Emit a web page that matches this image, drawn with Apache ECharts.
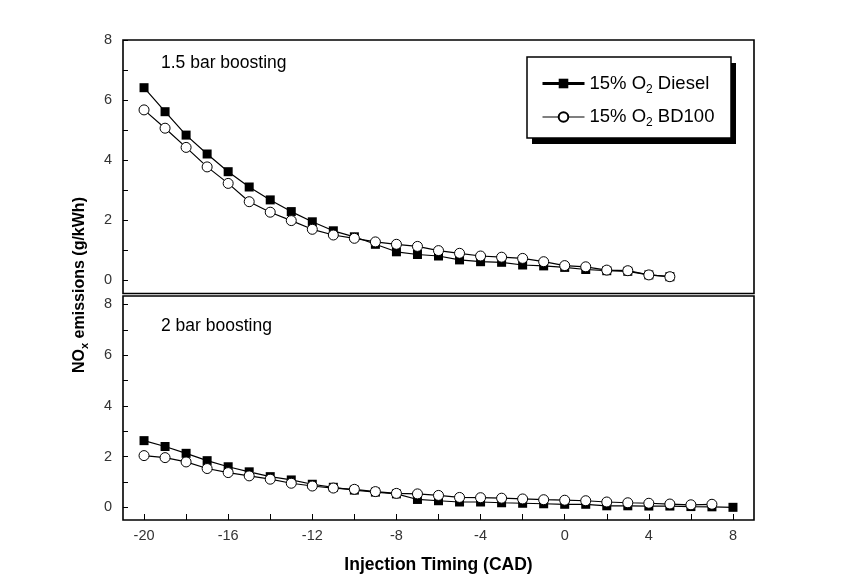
<!DOCTYPE html>
<html>
<head>
<meta charset="utf-8">
<script src="https://cdn.jsdelivr.net/npm/echarts@6/dist/echarts.min.js"></script>
<style>html,body{margin:0;padding:0;background:#fff;}#c{width:866px;height:579px;}</style>
</head>
<body>
<div id="c"></div>
<script>
// ---- data ----
var timingTop = [-20,-19,-18,-17,-16,-15,-14,-13,-12,-11,-10,-9,-8,-7,-6,-5,-4,-3,-2,-1,0,1,2,3,4,5];
var dieselTop = [6.41,5.61,4.83,4.20,3.61,3.10,2.67,2.28,1.94,1.64,1.44,1.19,0.94,0.85,0.80,0.67,0.61,0.59,0.50,0.47,0.42,0.35,0.31,0.29,0.17,0.11];
var bd100Top  = [5.67,5.06,4.42,3.77,3.22,2.61,2.26,1.98,1.69,1.50,1.39,1.27,1.19,1.12,0.98,0.89,0.80,0.76,0.72,0.61,0.48,0.44,0.33,0.31,0.17,0.11];

var timingBotDiesel = [-20,-19,-18,-17,-16,-15,-14,-13,-12,-11,-10,-9,-8,-7,-6,-5,-4,-3,-2,-1,0,1,2,3,4,5,6,7,8];
var dieselBot = [2.63,2.40,2.13,1.84,1.60,1.40,1.21,1.08,0.91,0.79,0.68,0.60,0.53,0.31,0.26,0.21,0.21,0.18,0.16,0.14,0.12,0.12,0.06,0.06,0.05,0.05,0.03,0.02,0.00];
var timingBotBD = [-20,-19,-18,-17,-16,-15,-14,-13,-12,-11,-10,-9,-8,-7,-6,-5,-4,-3,-2,-1,0,1,2,3,4,5,6,7];
var bd100Bot  = [2.04,1.96,1.79,1.53,1.37,1.24,1.11,0.95,0.84,0.76,0.71,0.62,0.55,0.53,0.47,0.39,0.38,0.36,0.33,0.30,0.28,0.26,0.21,0.18,0.16,0.13,0.10,0.12];

var xTicks = [-20,-18,-16,-14,-12,-10,-8,-6,-4,-2,0,2,4,6,8];
var xLabels = [-20,-16,-12,-8,-4,0,4,8];
var yTicks = [0,1,2,3,4,5,6,7,8];
var yLabels = [0,2,4,6,8];

var seriesNames = ['15% O2 Diesel', '15% O2 BD100'];
var panelTitles = ['1.5 bar boosting', '2 bar boosting'];

function zip(xs, ys) { return xs.map(function (x, i) { return [x, ys[i]]; }); }

var FONT = '"Liberation Sans", Arial, sans-serif';

var chart = echarts.init(document.getElementById('c'), null, {renderer: 'canvas'});

function yAxisFor(gi, min, max) {
  return {
    type: 'value', gridIndex: gi, min: min, max: max, position: 'left',
    axisLine: {show: false, onZero: false},
    splitLine: {show: false},
    axisTick: {show: true, inside: true, length: 5, customValues: yTicks, lineStyle: {color: '#000', width: 1}},
    axisLabel: {show: true, customValues: yLabels, margin: 11, fontFamily: FONT, fontSize: 14.5, color: '#333'}
  };
}

var diesel = {type: 'line', symbol: 'rect', symbolSize: 9, showAllSymbol: true,
  itemStyle: {color: '#000', borderColor: '#000', borderWidth: 0},
  lineStyle: {color: '#000', width: 1.2}, z: 3, animation: false};
var bd = {type: 'line', symbol: 'circle', symbolSize: 10, showAllSymbol: true,
  itemStyle: {color: '#fff', borderColor: '#000', borderWidth: 1},
  lineStyle: {color: '#000', width: 1.2}, z: 4, animation: false};

var option = {
  animation: false,
  backgroundColor: '#fff',
  grid: [
    {left: 123, top: 40, width: 631, height: 253.5, show: true, borderColor: '#000', borderWidth: 1.6, backgroundColor: 'transparent'},
    {left: 123, top: 296, width: 631, height: 224, show: true, borderColor: '#000', borderWidth: 1.6, backgroundColor: 'transparent'}
  ],
  xAxis: [
    {type: 'value', gridIndex: 0, min: -21, max: 9, position: 'bottom', axisLine: {show: false, onZero: false}, axisTick: {show: false}, axisLabel: {show: false}, splitLine: {show: false}},
    {type: 'value', gridIndex: 1, min: -21, max: 9, position: 'bottom', axisLine: {show: false, onZero: false}, splitLine: {show: false},
      axisTick: {show: true, inside: true, length: 6, customValues: xTicks, lineStyle: {color: '#000', width: 1}},
      axisLabel: {show: true, customValues: xLabels, margin: 8, fontFamily: FONT, fontSize: 14.5, color: '#333'},
      name: 'Injection Timing (CAD)', nameLocation: 'middle', nameGap: 36,
      nameTextStyle: {fontFamily: FONT, fontSize: 17.5, fontWeight: 'bold', color: '#000'}}
  ],
  yAxis: [yAxisFor(0, -0.45, 8), yAxisFor(1, -0.5, 8.335)],
  legend: {
    orient: 'vertical', left: 541, top: 74, padding: 0, itemWidth: 42, itemHeight: 12, itemGap: 12,
    z: 20, selectedMode: false,
    data: [
      {name: seriesNames[0], lineStyle: {width: 3}},
      {name: seriesNames[1], lineStyle: {width: 1.2}}
    ],
    formatter: function (n) { var p = n.split('O2'); return '{m|' + p[0] + 'O}{sub|2}{m|' + p[1] + '}'; },
    textStyle: {fontFamily: FONT, fontSize: 18.5, color: '#000',
      rich: {m: {fontFamily: FONT, fontSize: 18.5, color: '#000', lineHeight: 24, verticalAlign: 'middle'},
             sub: {fontFamily: FONT, fontSize: 12, color: '#000', lineHeight: 12, verticalAlign: 'bottom'}}}
  },
  graphic: [
    {type: 'rect', z: 10, shape: {x: 532, y: 63, width: 204, height: 81}, style: {fill: '#000'}},
    {type: 'rect', z: 11, shape: {x: 527, y: 57, width: 204, height: 81}, style: {fill: '#fff', stroke: '#000', lineWidth: 1.5}},
    {type: 'text', z: 12, left: 161, top: 54, style: {text: panelTitles[0], font: '17.5px ' + FONT, fill: '#000'}},
    {type: 'text', z: 12, left: 161, top: 317, style: {text: panelTitles[1], font: '17.5px ' + FONT, fill: '#000'}},
    {type: 'text', z: 12, x: 80, y: 285, rotation: Math.PI / 2,
      style: {text: '{b|NO}{s|x}{b| emissions (g/kWh)}', align: 'center', verticalAlign: 'middle',
        rich: {b: {fontFamily: FONT, fontSize: 16, fontWeight: 'bold', fill: '#000', lineHeight: 20, verticalAlign: 'middle'},
               s: {fontFamily: FONT, fontSize: 11, fontWeight: 'bold', fill: '#000', lineHeight: 11, verticalAlign: 'bottom'}}}}
  ],
  series: [
    Object.assign({name: seriesNames[0], xAxisIndex: 0, yAxisIndex: 0, data: zip(timingTop, dieselTop)}, diesel),
    Object.assign({name: seriesNames[1], xAxisIndex: 0, yAxisIndex: 0, data: zip(timingTop, bd100Top)}, bd),
    Object.assign({name: seriesNames[0], xAxisIndex: 1, yAxisIndex: 1, data: zip(timingBotDiesel, dieselBot)}, diesel),
    Object.assign({name: seriesNames[1], xAxisIndex: 1, yAxisIndex: 1, data: zip(timingBotBD, bd100Bot)}, bd)
  ]
};
chart.setOption(option);
</script>
</body>
</html>
